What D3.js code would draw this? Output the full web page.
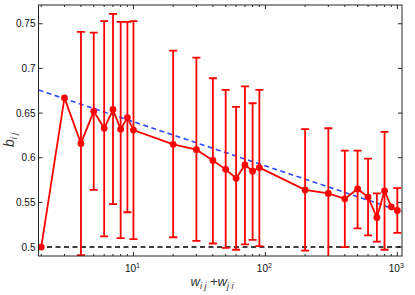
<!DOCTYPE html>
<html>
<head>
<meta charset="utf-8">
<script src="https://cdn.jsdelivr.net/npm/d3@7"></script>
<style>
  body { margin: 0; background: #fff; }
  text { font-family: "Liberation Sans", Arial, sans-serif; }
</style>
</head>
<body>
<div id="chart"></div>
<script>
const width = 415;
const height = 295;

// pair weights and the mean b_ij with its error range
const weights = [2, 3, 4, 5, 6, 7, 8, 9, 10, 20, 30, 40, 50, 60, 70, 80, 90,
                 200, 300, 400, 500, 600, 700, 800, 900, 1000];
const means = [0.500, 0.667, 0.616, 0.652, 0.633, 0.654, 0.632, 0.645, 0.631,
               0.615, 0.609, 0.597, 0.587, 0.577, 0.592, 0.585, 0.589,
               0.564, 0.560, 0.554, 0.565, 0.556, 0.533, 0.563, 0.545, 0.541];
const lows = [null, null, 0.491, 0.564, 0.512, 0.548, 0.510, 0.539, 0.509,
              0.511, 0.507, 0.504, 0.499, 0.497, 0.503, 0.508, 0.501,
              0.496, 0.470, 0.500, 0.521, 0.513, 0.506, 0.497, null, 0.516];
const highs = [null, null, 0.741, 0.740, 0.753, 0.761, 0.752, 0.752, 0.753,
               0.720, 0.712, 0.689, 0.676, 0.657, 0.680, 0.661, 0.676,
               0.632, 0.633, 0.608, 0.608, 0.599, 0.560, 0.629, null, 0.566];

// fitted trend b = fitA + fitB * log10(w)
const fitA = 0.6897;
const fitB = -0.0494;
const baseline = 0.5;

const xMajor = [10, 100, 1000];
const yTicks = [0.5, 0.55, 0.6, 0.65, 0.7, 0.75];

const margin = {left: 38.5, right: 13, top: 5, bottom: 39};

const svg = d3.select("#chart")
  .append("svg")
  .attr("width", width)
  .attr("height", height);

const x = d3.scaleLog()
  .domain([1.907, 1085])
  .range([margin.left, width - margin.right]);

const y = d3.scaleLinear()
  .domain([0.49, 0.771])
  .range([height - margin.bottom, margin.top]);

const [x0, x1] = x.range();
const [yb, yt] = y.range();

svg.append("defs").append("clipPath").attr("id", "plot")
  .append("rect")
  .attr("x", x0).attr("y", yt)
  .attr("width", x1 - x0).attr("height", yb - yt);

const xMinor = [];
[1, 10, 100].forEach(d => {
  for (let k = 2; k <= 9; k++) xMinor.push(d * k);
});
const xMinorIn = xMinor.filter(v => v >= x.domain()[0] && v <= x.domain()[1]);

const axisColor = "#262626";

// ticks (inside the box)
const gAx = svg.append("g").attr("stroke", axisColor).attr("stroke-width", 1);
xMajor.forEach(v => {
  gAx.append("line").attr("x1", x(v)).attr("x2", x(v)).attr("y1", yb).attr("y2", yb - 4);
  gAx.append("line").attr("x1", x(v)).attr("x2", x(v)).attr("y1", yt).attr("y2", yt + 4);
});
xMinorIn.forEach(v => {
  gAx.append("line").attr("x1", x(v)).attr("x2", x(v)).attr("y1", yb).attr("y2", yb - 2);
  gAx.append("line").attr("x1", x(v)).attr("x2", x(v)).attr("y1", yt).attr("y2", yt + 2);
});
yTicks.forEach(v => {
  gAx.append("line").attr("x1", x0).attr("x2", x0 + 4).attr("y1", y(v)).attr("y2", y(v));
  gAx.append("line").attr("x1", x1).attr("x2", x1 - 4).attr("y1", y(v)).attr("y2", y(v));
});

// tick labels
svg.append("g").selectAll("text")
  .data(yTicks)
  .enter()
  .append("text")
  .attr("x", x0 - 3)
  .attr("y", d => y(d))
  .attr("dy", "0.35em")
  .attr("text-anchor", "end")
  .attr("font-size", 10)
  .attr("fill", "#111")
  .text(d => d3.format("")(d));

const xl = svg.append("g").selectAll("text")
  .data(xMajor)
  .enter()
  .append("text")
  .attr("x", d => x(d) - 1)
  .attr("y", yb + 16)
  .attr("text-anchor", "middle")
  .attr("font-size", 10)
  .attr("fill", "#111");
xl.append("tspan").text("10");
xl.append("tspan").attr("dy", -4).attr("font-size", 7).text(d => Math.round(Math.log10(d)));

// axis titles
svg.append("text")
  .attr("transform", `translate(14,${y(0.62)}) rotate(-90)`)
  .attr("text-anchor", "middle")
  .attr("font-family", "'Liberation Serif', 'DejaVu Serif', serif")
  .attr("font-style", "italic")
  .attr("font-size", 14)
  .attr("fill", "#333")
  .html('b<tspan dy="3" font-size="9">i j</tspan>');

svg.append("text")
  .attr("x", 212)
  .attr("y", yb + 30)
  .attr("text-anchor", "middle")
  .attr("font-family", "'Liberation Serif', 'DejaVu Serif', serif")
  .attr("font-style", "italic")
  .attr("font-size", 13)
  .attr("fill", "#333")
  .html('w<tspan dy="3" font-size="9">i j</tspan><tspan dy="-3"> +w</tspan><tspan dy="3" font-size="9">j i</tspan>');

const plot = svg.append("g").attr("clip-path", "url(#plot)");

// baseline
plot.append("line")
  .attr("x1", x0).attr("x2", x1)
  .attr("y1", y(baseline)).attr("y2", y(baseline))
  .attr("stroke", "#000")
  .attr("stroke-width", 1.5)
  .attr("stroke-dasharray", "5,3.5");

// fitted trend
const trend = d3.line()
  .x(d => x(d))
  .y(d => y(fitA + fitB * Math.log10(d)));
plot.append("path")
  .datum(x.domain())
  .attr("d", trend)
  .attr("fill", "none")
  .attr("stroke", "#2b4cff")
  .attr("stroke-width", 1.6)
  .attr("stroke-dasharray", "5,3.5");

const rows = weights.map((w, i) => ({w, m: means[i], lo: lows[i], hi: highs[i]}));
const bars = rows.filter(d => d.lo !== null);

// error bars
const eb = plot.append("g").attr("stroke", "#ff0000").attr("stroke-width", 1.8);
eb.selectAll(".stem")
  .data(bars)
  .enter()
  .append("line")
  .attr("x1", d => x(d.w)).attr("x2", d => x(d.w))
  .attr("y1", d => y(d.lo)).attr("y2", d => y(d.hi));
eb.selectAll(".capHi")
  .data(bars)
  .enter()
  .append("line")
  .attr("x1", d => x(d.w) - 4).attr("x2", d => x(d.w) + 4)
  .attr("y1", d => y(d.hi)).attr("y2", d => y(d.hi));
eb.selectAll(".capLo")
  .data(bars)
  .enter()
  .append("line")
  .attr("x1", d => x(d.w) - 4).attr("x2", d => x(d.w) + 4)
  .attr("y1", d => y(d.lo)).attr("y2", d => y(d.lo));

// mean curve
const meanLine = d3.line().x(d => x(d.w)).y(d => y(d.m));
plot.append("path")
  .datum(rows)
  .attr("d", meanLine)
  .attr("fill", "none")
  .attr("stroke", "#ff0000")
  .attr("stroke-width", 1.8);

plot.selectAll("circle")
  .data(rows)
  .enter()
  .append("circle")
  .attr("cx", d => x(d.w))
  .attr("cy", d => y(d.m))
  .attr("r", 3.4)
  .attr("fill", "#ff0000");

// box
svg.append("rect")
  .attr("x", x0).attr("y", yt)
  .attr("width", x1 - x0).attr("height", yb - yt)
  .attr("fill", "none")
  .attr("stroke", axisColor)
  .attr("stroke-width", 1);
</script>
</body>
</html>
